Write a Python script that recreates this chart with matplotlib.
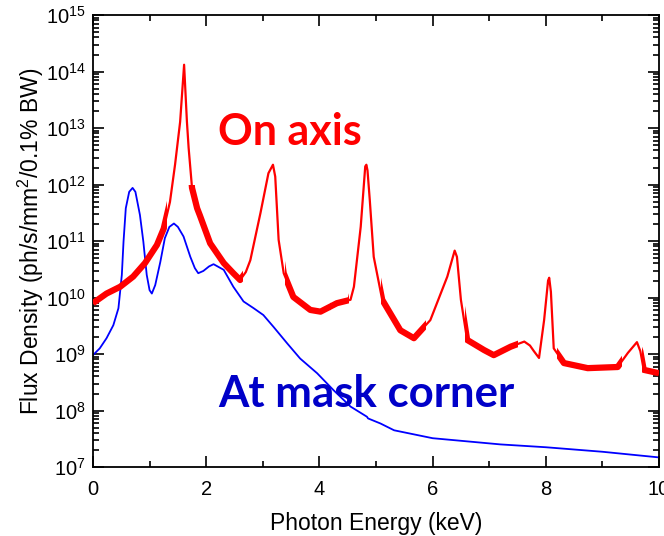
import numpy as np
import matplotlib
matplotlib.use("Agg")
import matplotlib.pyplot as plt
from matplotlib.patches import Rectangle
from matplotlib.ticker import LogLocator, MultipleLocator, NullFormatter

# On-axis spectrum: photon energy (keV) and log10 of flux density
red_e = [0.00, 0.24, 0.48, 0.71, 0.92, 1.13, 1.25, 1.36, 1.45, 1.54, 1.61, 1.66,
         1.69, 1.75, 1.84, 1.89, 2.07, 2.31, 2.48, 2.60, 2.70, 2.78, 2.96, 3.10,
         3.18, 3.22, 3.28, 3.37, 3.54, 3.84, 4.02, 4.31, 4.55, 4.61, 4.73, 4.81,
         4.83, 4.85, 4.89, 4.96, 5.11, 5.43, 5.67, 5.96, 6.26, 6.39, 6.43, 6.50,
         6.61, 6.91, 7.08, 7.38, 7.62, 7.72, 7.79, 7.88, 7.97, 8.04, 8.06, 8.09,
         8.14, 8.32, 8.74, 9.27, 9.45, 9.61, 9.67, 9.73, 10.00]
red_log = [9.90, 10.07, 10.19, 10.37, 10.61, 10.93, 11.22, 11.69, 12.35, 13.11, 14.12, 13.11,
           12.65, 11.94, 11.58, 11.45, 10.96, 10.61, 10.43, 10.31, 10.45, 10.66, 11.50, 12.20,
           12.35, 12.14, 11.02, 10.43, 10.01, 9.78, 9.75, 9.90, 9.96, 10.19, 11.25, 12.32,
           12.35, 12.25, 11.73, 10.72, 9.96, 9.42, 9.28, 9.60, 10.37, 10.83, 10.72, 9.96,
           9.25, 9.07, 8.98, 9.13, 9.22, 9.15, 9.05, 8.93, 9.60, 10.30, 10.35, 10.10,
           9.10, 8.84, 8.75, 8.77, 9.02, 9.21, 9.05, 8.72, 8.66]

# At mask corner
blue_e = [0.00, 0.12, 0.24, 0.36, 0.45, 0.51, 0.54, 0.58, 0.64, 0.70, 0.75, 0.83,
          0.89, 0.95, 1.00, 1.04, 1.10, 1.19, 1.27, 1.35, 1.43, 1.50, 1.60, 1.72,
          1.80, 1.86, 1.95, 2.05, 2.13, 2.31, 2.48, 2.66, 2.84, 3.01, 3.19, 3.43,
          3.66, 3.96, 4.25, 4.55, 4.84, 4.86, 5.08, 5.32, 6.00, 7.20, 8.00, 9.00, 10.00]
blue_log = [8.98, 9.10, 9.28, 9.51, 9.81, 10.40, 10.99, 11.58, 11.87, 11.94, 11.87, 11.46,
            10.99, 10.40, 10.13, 10.07, 10.22, 10.63, 11.05, 11.25, 11.31, 11.25, 11.08, 10.72,
            10.52, 10.43, 10.47, 10.55, 10.59, 10.49, 10.19, 9.93, 9.81, 9.69, 9.48, 9.19,
            8.92, 8.66, 8.36, 8.07, 7.89, 7.86, 7.77, 7.65, 7.51, 7.40, 7.35, 7.27, 7.17]

# energy ranges where the on-axis curve shows fast ripple
fuzz_start = [0.00, 1.68, 3.40, 4.19, 5.08, 6.58, 8.20, 9.70]
fuzz_end = [1.30, 2.65, 4.20, 4.52, 5.88, 7.50, 9.35, 10.00]

plt.rcParams['font.family'] = ['Liberation Sans', 'DejaVu Sans']
plt.rcParams['mathtext.default'] = 'regular'

fig = plt.figure(figsize=(6.64, 5.36), dpi=100)
ax = fig.add_axes([0.140, 0.1287, 0.8525, 0.8433])

red_y = 10.0 ** np.array(red_log)
blue_y = 10.0 ** np.array(blue_log)

ax.plot(blue_e, blue_y, color='#0000FF', lw=1.3, zorder=2)
ax.plot(red_e, red_y, color='#FF0000', lw=1.6, zorder=3)

# ripple bands: same curve drawn thick, clipped to the rippled ranges
for x0, x1 in zip(fuzz_start, fuzz_end):
    ln, = ax.plot(red_e, red_y, color='#FF0000', lw=4.5, zorder=3,
                  solid_capstyle='butt')
    clip = Rectangle((x0, 1e5), x1 - x0, 1e12, transform=ax.transData)
    ln.set_clip_path(clip)

ax.set_xlim(0, 10)
ax.set_yscale('log')
ax.set_ylim(1e7, 1e15)

ax.xaxis.set_major_locator(MultipleLocator(2))
ax.xaxis.set_minor_locator(MultipleLocator(1))
ax.yaxis.set_major_locator(LogLocator(base=10, numticks=20))
ax.yaxis.set_minor_locator(LogLocator(base=10, subs=np.arange(2, 10), numticks=20))
ax.yaxis.set_minor_formatter(NullFormatter())

ax.tick_params(which='both', direction='in', top=True, right=True, width=1.2, colors='black')
ax.tick_params(which='major', length=8, labelsize=14.5)
ax.tick_params(which='minor', length=4)
ax.tick_params(axis='x', pad=9)
ax.tick_params(axis='y', pad=5)
for s in ax.spines.values():
    s.set_linewidth(1.3)

ax.set_xlabel('Photon Energy (keV)', fontsize=16.5, labelpad=10)
ax.set_ylabel('Flux Density (ph/s/mm$^2$/0.1% BW)', fontsize=16.5, labelpad=0)

ax.text(0.221, 0.712, 'On axis', transform=ax.transAxes, color='#FF0000',
        fontsize=31, fontweight='bold', family='Lato', ha='left', va='baseline')
ax.text(0.221, 0.133, 'At mask corner', transform=ax.transAxes, color='#0000C8',
        fontsize=31.5, fontweight='bold', family='Lato', ha='left', va='baseline')

fig.savefig('out.png', dpi=100)
